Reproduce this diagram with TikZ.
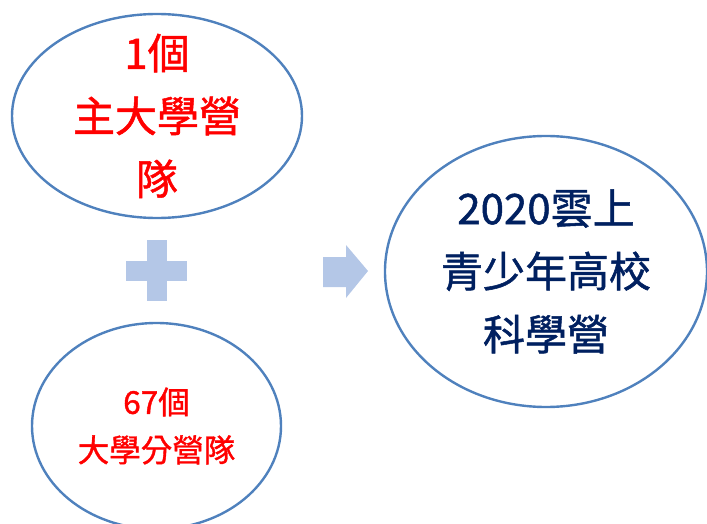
\documentclass[tikz,border=0pt]{standalone}
\usepackage{fontspec}
\setmainfont{Noto Sans CJK TC}[FakeBold=1.2]
\usepackage{tikz}
\usetikzlibrary{shapes.geometric, positioning}

\definecolor{rimblue}{HTML}{4F81BD}
\definecolor{signblue}{HTML}{B4C7E7}
\definecolor{navy}{HTML}{002060}
\definecolor{teamred}{HTML}{FF0000}

\tikzset{
    campring/.style={ellipse, draw=rimblue, line width=2.4pt, inner sep=0pt},
    bigtext/.style={align=center, font=\fontsize{42}{63}\selectfont},
    smalltext/.style={align=center, font=\fontsize{31.5}{48}\selectfont}
}

\begin{document}
\begin{tikzpicture}[x=1pt, y=-1pt]
    \useasboundingbox (0,0) rectangle (707,524);
    % three ellipses
    \node[campring, minimum width=290pt, minimum height=204pt] (main) at (157,116) {};
    \node[campring, minimum width=249pt, minimum height=206pt] (branch) at (156.5,426) {};
    \node[campring, minimum width=322pt, minimum height=271pt] (camp) at (546,271.5) {};
    % texts
    \node[bigtext, text=teamred] (maintxt) at (main) {1個\\主大學營\\隊};
    \node[smalltext, text=teamred] (branchtxt) at (branch) {67個\\大學分營隊};
    \node[bigtext, text=navy] (camptxt) at (camp) {2020雲上\\青少年高校\\科學營};
    % plus sign
    \fill[signblue] (147,240) rectangle (167,301);
    \fill[signblue] (126,261) rectangle (187,281);
    % block arrow
    \fill[signblue] (323,257) -- (346,257) -- (346,245) -- (368,271)
        -- (346,298) -- (346,287) -- (323,287) -- cycle;
\end{tikzpicture}
\end{document}
